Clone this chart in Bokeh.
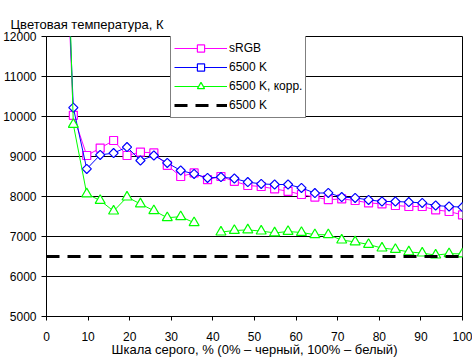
import numpy as np
from bokeh.plotting import figure
from bokeh.models import Range1d, Legend, LegendItem, FixedTicker
from bokeh.embed import file_html
from bokeh.resources import INLINE

# gray levels, % (steps of 100/31)
gray = [i * 100 / 31 for i in range(1, 32)]

srgb = [18000, 10030, 9025, 9210, 9400, 9025, 9110, 9090, 8780, 8500, 8590,
        8420, 8500, 8380, 8275, 8250, 8190, 8130, 8050, 7985, 7920, 7940,
        7900, 7840, 7815, 7775, 7750, 7750, 7665, 7625, 7540]
k6500 = [18300, 10220, 8690, 9040, 9085, 9235, 8900, 9025, 8840, 8650, 8565,
         8465, 8485, 8450, 8360, 8315, 8300, 8300, 8215, 8085, 8090, 7985,
         7965, 7915, 7875, 7875, 7860, 7840, 7775, 7750, 7735]
k6500_corr = [21000, 9800, 8065, 7900, 7635, 7985, 7815, 7645, 7470, 7495, 7345,
              np.nan, 7110, 7150, 7165, 7135, 7090, 7125, 7100, 7045, 7045, 6910,
              6865, 6800, 6710, 6675, 6615, 6585, 6535, 6570, 6565]
ref_x = [0, 100]
ref_y = [6500, 6500]

series_names = ["sRGB", "6500 K", "6500 K, корр.", "6500 K"]
x_ticks = list(range(0, 101, 10))
y_ticks = list(range(5000, 12001, 1000))

FONT = "Liberation Sans"

p = figure(width=472, height=359, output_backend="svg", toolbar_location=None,
           x_range=Range1d(0, 100), y_range=Range1d(5000, 12000),
           min_border_left=44, min_border_right=10, min_border_top=36,
           min_border_bottom=43)

p.title.text = "Цветовая температура, К"
p.title.text_font = FONT
p.title.text_font_size = "13px"
p.title.text_font_style = "normal"
p.title.align = "left"
p.title.offset = -36
p.title.text_color = "black"

p.background_fill_color = "white"
p.border_fill_color = "white"
p.outline_line_color = "black"
p.outline_line_width = 1

p.xgrid.visible = False
p.ygrid.grid_line_color = "black"
p.ygrid.grid_line_width = 1
p.ygrid.ticker = FixedTicker(ticks=y_ticks)

p.xaxis.ticker = FixedTicker(ticks=x_ticks)
p.yaxis.ticker = FixedTicker(ticks=y_ticks)
for ax in (p.xaxis[0], p.yaxis[0]):
    ax.axis_line_color = "black"
    ax.major_tick_line_color = "black"
    ax.minor_tick_line_color = None
    ax.major_tick_in = 0
    ax.major_label_text_font = FONT
    ax.major_label_text_font_size = "12px"
    ax.major_label_text_color = "black"
p.xaxis.major_tick_out = 4
p.yaxis.major_tick_out = 5
p.yaxis.major_label_standoff = 5
p.xaxis.major_label_standoff = 11
p.xaxis.axis_label = "Шкала серого, % (0% – черный, 100% – белый)"
p.xaxis.axis_label_text_font = FONT
p.xaxis.axis_label_text_font_size = "13px"
p.xaxis.axis_label_text_font_style = "normal"
p.xaxis.axis_label_text_color = "black"
p.xaxis.axis_label_standoff = -2

l1 = p.line(gray, srgb, line_color="#FF00FF", line_width=1)
s1 = p.scatter(gray, srgb, marker="square", size=8, line_color="#FF00FF",
               fill_color="white", line_width=1.2)
l2 = p.line(gray, k6500, line_color="#0000FF", line_width=1)
s2 = p.scatter(gray, k6500, marker="square", size=6.5, angle=np.pi / 4,
               line_color="#0000FF", fill_color="white", line_width=1.2)
l3 = p.line(gray, k6500_corr, line_color="#00FF00", line_width=1)
s3 = p.scatter(gray, k6500_corr, marker="triangle", size=10, line_color="#00FF00",
               fill_color="white", line_width=1.2)
l4 = p.line(ref_x, ref_y, line_color="black", line_width=3, line_dash="13 8")

legend = Legend(items=[
    LegendItem(label=series_names[0], renderers=[l1, s1]),
    LegendItem(label=series_names[1], renderers=[l2, s2]),
    LegendItem(label=series_names[2], renderers=[l3, s3]),
    LegendItem(label=series_names[3], renderers=[l4]),
], location=(124, 198))
legend.border_line_color = "black"
legend.border_line_width = 1
legend.background_fill_color = "white"
legend.background_fill_alpha = 1
legend.label_text_font = FONT
legend.label_text_font_size = "12px"
legend.label_text_color = "black"
legend.glyph_width = 53
legend.glyph_height = 18
legend.label_height = 18
legend.spacing = 1
legend.padding = 3
legend.margin = 0
legend.label_standoff = 2
p.add_layout(legend, "center")

open("out.html", "w").write(file_html(p, INLINE))
